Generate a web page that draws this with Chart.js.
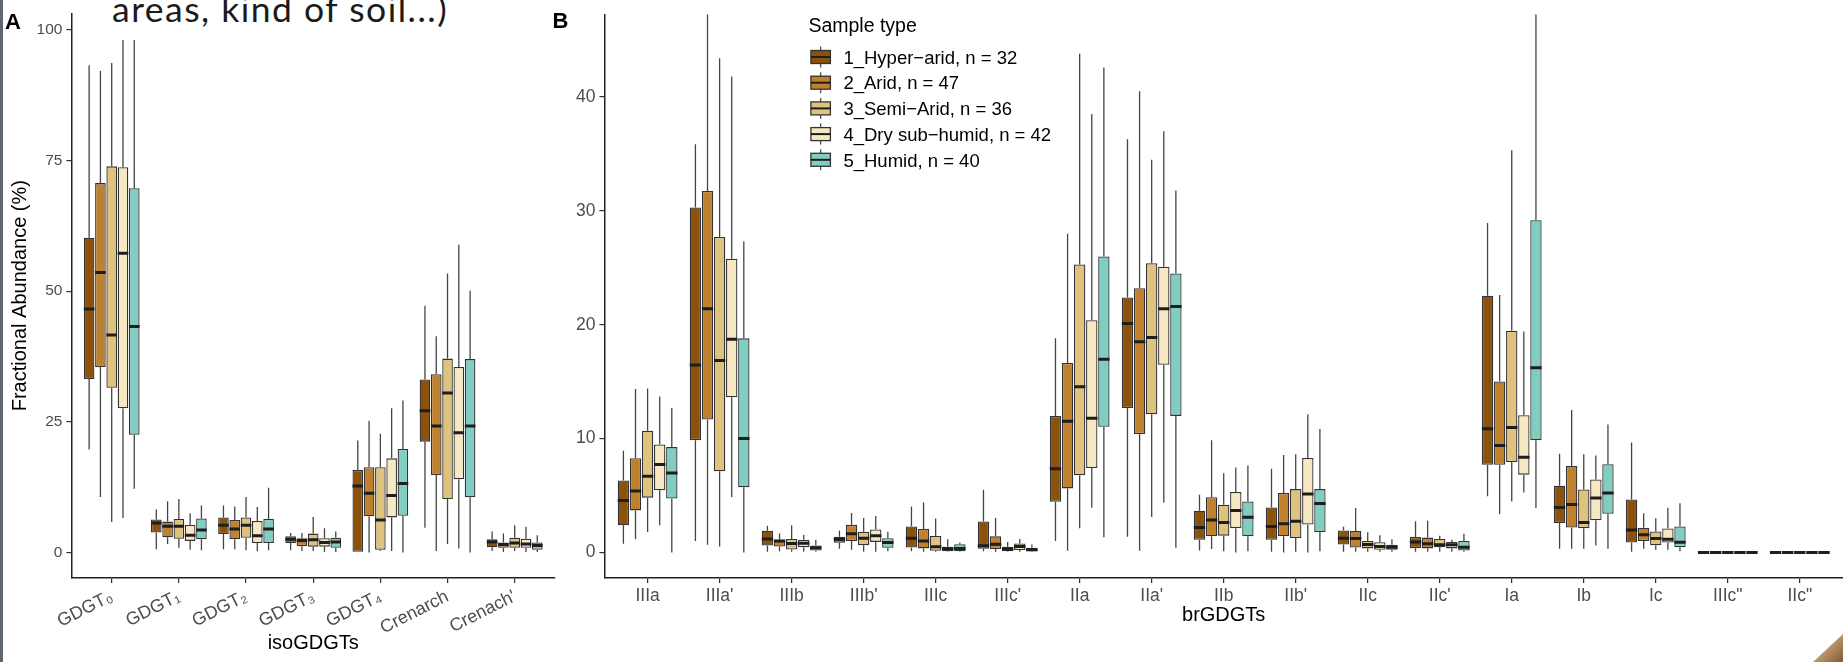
<!DOCTYPE html>
<html>
<head>
<meta charset="utf-8">
<title>isoGDGT / brGDGT boxplots</title>
<script src="https://cdn.jsdelivr.net/npm/chart.js@4.4.1/dist/chart.umd.min.js"></script>
<style>
  body { margin: 0; width: 1843px; height: 662px; overflow: hidden; position: relative; background: #fff; }
  #chartA { position: absolute; left: 0; top: 0; }
  #chartB { position: absolute; left: 545px; top: 0; }
  .slide-text { position: absolute; left: 112px; top: -9.5px; font: 35.5px/35.5px Lato, sans-serif; letter-spacing: 1.5px; color: #1b1b1b; white-space: nowrap; }
  .edge { position: absolute; left: 0; top: 0; width: 3px; height: 662px; background: #5f666d; }
  .corner { position: absolute; right: 0; bottom: 0; width: 30px; height: 28px;
            background: linear-gradient(135deg, #e2d3b8 0%, #b08a5e 60%, #7d5a36 100%);
            clip-path: polygon(100% 0, 100% 100%, 0 100%); }
</style>
</head>
<body>
<div class="edge"></div>
<div class="slide-text">areas, kind of soil...)</div>
<canvas id="chartA" width="560" height="662"></canvas>
<canvas id="chartB" width="1298" height="662"></canvas>
<div class="corner"></div>
<script>
// sample groups (legend order)
const sampleTypes = ['1_Hyper\u2212arid, n = 32', '2_Arid, n = 47', '3_Semi\u2212Arid, n = 36', '4_Dry sub\u2212humid, n = 42', '5_Humid, n = 40'];
const sampleColors = ['#8C510A', '#BF812D', '#DFC27D', '#F6E8C3', '#80CDC1'];

// panel A: isoGDGTs  (one row per sample type)
const isoCats = ['GDGT\u2080', 'GDGT\u2081', 'GDGT\u2082', 'GDGT\u2083', 'GDGT\u2084', 'Crenarch', "Crenach'"];
const isoTicks = [0, 25, 50, 75, 100];
const isoLow = [
  [19.7, 0.6, 0.6, 0.4, 0, 4.7, 0.25],
  [10.6, 1.6, 0.6, 0.25, 0, 0.25, 0.1],
  [5.8, 0.9, 0.4, 0.25, 0.25, 1.6, 0.25],
  [6.6, 0.5, 0.2, 0.1, 0.25, 0.75, 0.1],
  [12.2, 0.4, 0.4, 0.1, 0, 0, 0.1]
];
const isoQ1 = [
  [33.2, 3.8, 3.5, 1.8, 0, 21.2, 1.0],
  [35.5, 2.9, 2.5, 1.2, 6.9, 14.8, 0.9],
  [31.5, 2.6, 2.8, 1.1, 0.5, 10.2, 0.9],
  [27.6, 2.2, 1.8, 1.1, 6.7, 14.0, 0.9],
  [22.5, 2.5, 1.8, 0.9, 7.0, 10.55, 0.5]
];
const isoMed = [
  [46.6, 5.65, 5.2, 2.5, 12.7, 27.1, 2.0],
  [53.6, 5.0, 4.5, 2.3, 11.3, 24.2, 1.5],
  [41.6, 5.0, 5.2, 2.4, 6.2, 30.5, 1.8],
  [57.25, 3.3, 3.2, 1.9, 10.9, 22.9, 1.6],
  [43.25, 4.3, 4.5, 2.0, 13.2, 24.2, 1.3]
];
const isoQ3 = [
  [60.25, 6.3, 6.7, 3.1, 15.8, 33.1, 2.5],
  [70.7, 5.9, 6.2, 2.7, 16.3, 34.1, 1.9],
  [73.9, 6.4, 6.7, 3.6, 16.3, 37.1, 2.8],
  [73.75, 5.3, 6.0, 2.7, 18.0, 35.5, 2.6],
  [69.7, 6.5, 6.4, 2.8, 19.8, 37.0, 1.9]
];
const isoHigh = [
  [93.25, 8.2, 9.0, 3.7, 21.4, 47.2, 4.0],
  [92.2, 9.8, 8.8, 3.7, 25.2, 41.4, 3.6],
  [93.7, 10.2, 10.6, 6.8, 22.7, 53.4, 5.2],
  [98.1, 7.5, 8.7, 4.6, 27.6, 58.9, 4.9],
  [98.1, 9.0, 12.4, 4.0, 29.1, 50.1, 3.3]
];

// panel B: brGDGTs
const brCats = ['IIIa', "IIIa'", 'IIIb', "IIIb'", 'IIIc', "IIIc'", 'IIa', "IIa'", 'IIb', "IIb'", 'IIc', "IIc'", 'Ia', 'Ib', 'Ic', 'IIIc"', 'IIc"'];
const brTicks = [0, 10, 20, 30, 40];
const brLow = [
  [0.75, 1.0, 0.05, 0.32, 0.1, 0.1, 1.0, 1.38, 0.17, 0.05, 0.05, 0.05, 4.93, 0.32, 0.05, 0, 0],
  [1.15, 0.66, 0.1, 0.23, 0.05, 0.05, 0.14, 0.14, 0.29, 0, 0.05, 0.05, 3.37, 0.32, 0.32, 0, 0],
  [1.79, 0.52, 0.05, 0.05, 0.05, 0.05, 2.13, 3.11, 0.1, 0.05, 0.05, 0.05, 4.47, 0.32, 0.23, 0, 0],
  [2.39, 4.84, 0.05, 0.05, 0.05, 0.05, 3.92, 4.38, 0, 0, 0.05, 0.05, 5.27, 0.6, 0.23, 0, 0],
  [0, 0, 0.05, 0.1, 0.05, 0.05, 1.33, 0.4, 0.1, 0.1, 0.05, 0.05, 3.89, 0.32, 0.1, 0, 0]
];
const brQ1 = [
  [2.39, 9.86, 0.6, 0.84, 0.43, 0.32, 4.44, 12.68, 1.1, 1.1, 0.69, 0.37, 7.69, 2.59, 0.86, 0, 0],
  [3.69, 11.67, 0.52, 1.0, 0.35, 0.29, 5.62, 10.4, 1.41, 1.41, 0.43, 0.35, 7.69, 2.19, 1.0, 0, 0],
  [4.81, 7.12, 0.26, 0.63, 0.14, 0.1, 6.77, 12.13, 1.47, 1.27, 0.35, 0.46, 7.93, 2.13, 0.63, 0, 0],
  [5.45, 13.63, 0.46, 0.92, 0.1, 0.2, 7.41, 16.48, 2.13, 2.45, 0.23, 0.35, 6.83, 2.82, 0.86, 0, 0],
  [4.73, 5.73, 0.17, 0.4, 0.1, 0.09, 11.04, 11.99, 1.41, 1.79, 0.23, 0.17, 9.86, 3.4, 0.46, 0, 0]
];
const brMed = [
  [4.55, 16.45, 1.18, 1.15, 1.24, 0.58, 7.35, 20.1, 2.19, 2.28, 1.24, 0.92, 10.86, 3.95, 1.96, 0, 0],
  [5.39, 21.4, 1.0, 1.64, 1.0, 0.72, 11.53, 18.5, 2.85, 2.51, 1.21, 0.75, 9.39, 4.21, 1.56, 0, 0],
  [6.69, 16.86, 0.78, 1.24, 0.49, 0.29, 14.55, 18.88, 2.62, 2.74, 0.69, 0.66, 10.98, 2.62, 1.21, 0, 0],
  [7.72, 18.73, 0.8, 1.47, 0.32, 0.52, 11.79, 21.4, 3.69, 5.13, 0.52, 0.66, 8.36, 4.78, 1.15, 0, 0],
  [6.97, 10.0, 0.4, 0.86, 0.35, 0.23, 16.97, 21.6, 3.08, 4.29, 0.46, 0.46, 16.22, 5.22, 0.89, 0, 0]
];
const brQ3 = [
  [6.31, 30.3, 1.9, 1.38, 2.28, 2.71, 11.99, 22.4, 3.66, 3.95, 1.93, 1.35, 22.55, 5.85, 4.64, 0, 0],
  [8.27, 31.75, 1.12, 2.42, 2.05, 1.41, 16.63, 23.2, 4.84, 5.22, 1.87, 1.3, 15.01, 7.58, 2.16, 0, 0],
  [10.69, 27.7, 1.18, 1.82, 1.44, 0.49, 25.3, 25.4, 4.18, 5.56, 1.0, 1.18, 19.48, 5.53, 1.84, 0, 0],
  [9.48, 25.8, 1.1, 2.02, 0.49, 0.78, 20.4, 25.1, 5.3, 8.3, 0.89, 0.92, 12.05, 6.4, 2.1, 0, 0],
  [9.25, 18.8, 0.6, 1.24, 0.72, 0.4, 26.0, 24.5, 4.47, 5.56, 0.66, 1.0, 29.17, 7.75, 2.28, 0, 0]
];
const brHigh = [
  [8.93, 35.85, 2.33, 1.93, 4.03, 5.5, 18.8, 36.3, 5.07, 7.35, 2.25, 2.74, 28.94, 8.67, 9.65, 0, 0],
  [14.35, 48, 1.67, 3.46, 4.38, 3.03, 28.0, 40.5, 9.86, 8.56, 3.89, 2.77, 22.6, 12.51, 3.43, 0, 0],
  [14.4, 43.4, 2.39, 3.03, 2.97, 0.92, 43.8, 34.5, 6.95, 8.62, 1.76, 1.47, 35.33, 8.62, 3.0, 0, 0],
  [13.7, 41.8, 1.56, 3.2, 1.15, 1.18, 38.5, 37.0, 7.46, 12.13, 1.5, 1.12, 19.4, 8.5, 3.92, 0, 0],
  [12.68, 27.3, 1.12, 1.82, 0.86, 0.69, 42.6, 31.8, 7.64, 10.84, 1.15, 1.64, 48, 11.24, 4.32, 0, 0]
];

Chart.defaults.font.family = '"Liberation Sans", Arial, sans-serif';
Chart.defaults.animation = false;

// boxes are floating bars q1..q3, whiskers + medians are drawn on top
function buildDatasets(low, q1, med, q3, high) {
  return sampleTypes.map((name, g) => ({
    label: name,
    data: q1[g].map((v, i) => ({ x: i, y: [v, q3[g][i]] })),
    low: low[g],
    med: med[g],
    high: high[g],
    backgroundColor: sampleColors[g],
    borderColor: '#333333',
    borderWidth: 1.3,
    borderSkipped: false,
    categoryPercentage: 0.84,
    barPercentage: 0.94
  }));
}

const boxExtras = {
  id: 'boxExtras',
  afterDatasetsDraw(chart) {
    const ctx = chart.ctx, ys = chart.scales.y, a = chart.chartArea;
    ctx.save();
    ctx.beginPath();
    ctx.rect(a.left, a.top, a.right - a.left, a.bottom - a.top);
    ctx.clip();
    chart.data.datasets.forEach((ds, i) => {
      chart.getDatasetMeta(i).data.forEach((bar, j) => {
        const x = bar.x, half = bar.width / 2;
        const [q1, q3] = ds.data[j].y;
        ctx.strokeStyle = '#444444';
        ctx.lineWidth = 1.3;
        ctx.beginPath();
        ctx.moveTo(x, ys.getPixelForValue(ds.high[j]));
        ctx.lineTo(x, ys.getPixelForValue(q3));
        ctx.moveTo(x, ys.getPixelForValue(q1));
        ctx.lineTo(x, ys.getPixelForValue(ds.low[j]));
        ctx.stroke();
        const ym = ys.getPixelForValue(ds.med[j]);
        ctx.strokeStyle = '#1e1e1e';
        ctx.lineWidth = 3;
        ctx.beginPath();
        ctx.moveTo(x - half, ym);
        ctx.lineTo(x + half, ym);
        ctx.stroke();
      });
    });
    ctx.restore();
  }
};

const panelTag = {
  id: 'panelTag',
  afterDraw(chart, args, opts) {
    const ctx = chart.ctx;
    ctx.save();
    ctx.fillStyle = '#000';
    ctx.font = 'bold 22px "Liberation Sans", Arial, sans-serif';
    ctx.textBaseline = 'alphabetic';
    ctx.fillText(opts.text, opts.x, opts.y);
    ctx.restore();
  }
};

const sampleLegend = {
  id: 'sampleLegend',
  afterDraw(chart) {
    const ctx = chart.ctx;
    const left = chart.chartArea.left + 204;
    ctx.save();
    ctx.fillStyle = '#000';
    ctx.font = '19.5px "Liberation Sans", Arial, sans-serif';
    ctx.textBaseline = 'alphabetic';
    ctx.fillText('Sample type', left, 31.5);
    ctx.font = '18.5px "Liberation Sans", Arial, sans-serif';
    sampleTypes.forEach((name, g) => {
      const cy = 57 + g * 25.7;
      const kx = left + 2.5, kw = 19.5;
      ctx.strokeStyle = '#444';
      ctx.lineWidth = 1.2;
      ctx.beginPath();
      ctx.moveTo(kx + kw / 2, cy - 10.5);
      ctx.lineTo(kx + kw / 2, cy + 10.5);
      ctx.stroke();
      ctx.fillStyle = sampleColors[g];
      ctx.fillRect(kx, cy - 6.5, kw, 13);
      ctx.strokeStyle = '#333';
      ctx.lineWidth = 1.3;
      ctx.strokeRect(kx, cy - 6.5, kw, 13);
      ctx.strokeStyle = '#1e1e1e';
      ctx.lineWidth = 2;
      ctx.beginPath();
      ctx.moveTo(kx, cy);
      ctx.lineTo(kx + kw, cy);
      ctx.stroke();
      ctx.fillStyle = '#000';
      ctx.fillText(name, left + 35, cy + 6.7);
    });
    ctx.restore();
  }
};

function xAxis(cats, fontSize, rotation, title, titlePad) {
  return {
    type: 'linear',
    offset: false,
    min: -0.6,
    max: cats.length - 0.4,
    afterBuildTicks: s => { s.ticks = cats.map((c, i) => ({ value: i })); },
    afterFit: s => { s.height = 84; },
    ticks: {
      callback: v => cats[v],
      autoSkip: false,
      minRotation: rotation,
      maxRotation: rotation,
      color: '#4d4d4d',
      font: { size: fontSize },
      padding: 3
    },
    grid: { display: true, offset: false, drawOnChartArea: false, drawTicks: true, tickLength: 5, color: '#333', lineWidth: 1.2 },
    border: { display: true, color: '#222', width: 1.5 },
    title: { display: true, text: title, color: '#000', font: { size: 20 }, padding: { top: 0, bottom: titlePad } }
  };
}

function yAxis(min, max, tickVals, width, fontSize, title) {
  return {
    min: min,
    max: max,
    afterBuildTicks: s => { s.ticks = tickVals.map(v => ({ value: v })); },
    afterFit: s => { s.width = width; },
    ticks: { color: '#4d4d4d', font: { size: fontSize }, padding: 4 },
    grid: { display: true, drawOnChartArea: false, drawTicks: true, tickLength: 5, color: '#333', lineWidth: 1.2 },
    border: { display: true, color: '#222', width: 1.5 },
    title: { display: !!title, text: title || '', color: '#000', font: { size: 20 }, padding: { top: 8, bottom: 0 } }
  };
}

new Chart(document.getElementById('chartA'), {
  type: 'bar',
  data: { datasets: buildDatasets(isoLow, isoQ1, isoMed, isoQ3, isoHigh) },
  options: {
    responsive: false,
    layout: { padding: { top: 4.7, right: 5, left: 0, bottom: 0 } },
    scales: {
      x: xAxis(isoCats, 18, 27, 'isoGDGTs', 7),
      y: yAxis(-4.9, 103.2, isoTicks, 71.4, 15.5, 'Fractional Abundance (%)')
    },
    plugins: {
      legend: { display: false },
      tooltip: { enabled: false },
      panelTag: { text: 'A', x: 5, y: 29 }
    }
  },
  plugins: [boxExtras, panelTag]
});

new Chart(document.getElementById('chartB'), {
  type: 'bar',
  data: { datasets: buildDatasets(brLow, brQ1, brMed, brQ3, brHigh) },
  options: {
    responsive: false,
    layout: { padding: { top: 4.7, right: 0, left: 0, bottom: 0 } },
    scales: {
      x: xAxis(brCats, 17.5, 0, 'brGDGTs', 35),
      y: yAxis(-2.25, 47.25, brTicks, 59.4, 17.5, null)
    },
    plugins: {
      legend: { display: false },
      tooltip: { enabled: false },
      panelTag: { text: 'B', x: 7.6, y: 28 }
    }
  },
  plugins: [boxExtras, panelTag, sampleLegend]
});
</script>
</body>
</html>
